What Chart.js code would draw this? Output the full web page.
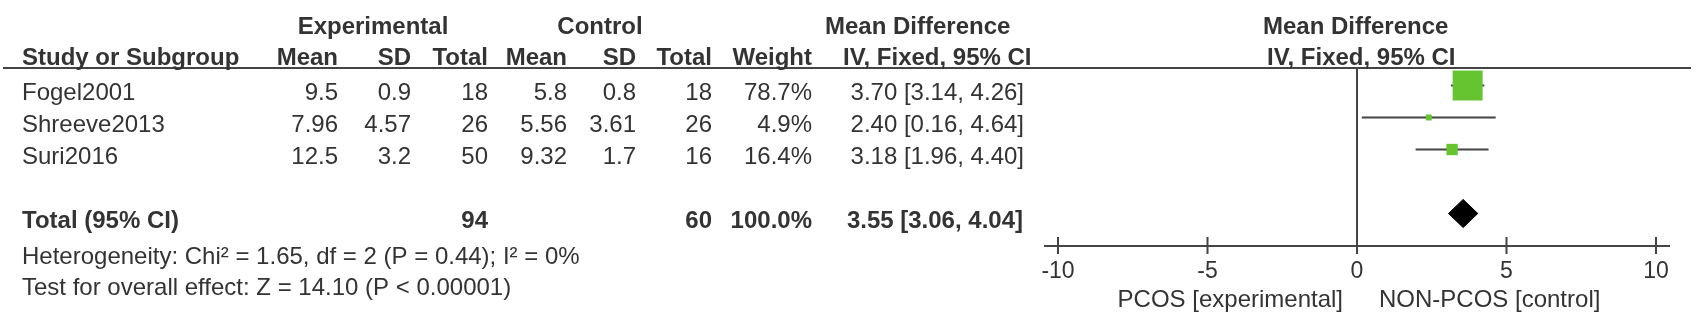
<!DOCTYPE html>
<html>
<head>
<meta charset="utf-8">
<script src="https://cdn.jsdelivr.net/npm/chart.js"></script>
<style>
  html, body { margin: 0; padding: 0; background: #fff; }
  #wrap { width: 1699px; height: 316px; }
</style>
</head>
<body>
<div id="wrap"><canvas id="forest" width="1699" height="316"></canvas></div>
<script>
  // study data
  const studies = ['Fogel2001', 'Shreeve2013', 'Suri2016'];
  const expMean = [9.5, 7.96, 12.5];
  const expSD = [0.9, 4.57, 3.2];
  const expN = [18, 26, 50];
  const ctlMean = [5.8, 5.56, 9.32];
  const ctlSD = [0.8, 3.61, 1.7];
  const ctlN = [18, 26, 16];
  const weights = [78.7, 4.9, 16.4];
  const md = [3.70, 2.40, 3.18];
  const ciLow = [3.14, 0.16, 1.96];
  const ciHigh = [4.26, 4.64, 4.40];

  // pooled result
  const totalExpN = 94;
  const totalCtlN = 60;
  const totalWeight = 100.0;
  const totalMd = 3.55;
  const totalLow = 3.06;
  const totalHigh = 4.04;

  const xTicks = [-10, -5, 0, 5, 10];
  const heterogeneity = 'Heterogeneity: Chi\u00b2 = 1.65, df = 2 (P = 0.44); I\u00b2 = 0%';
  const overallTest = 'Test for overall effect: Z = 14.10 (P < 0.00001)';
  const favoursLeft = 'PCOS [experimental]';
  const favoursRight = 'NON-PCOS [control]';

  const TOTAL_ROW = studies.length + 1;
  const FONT = "'Liberation Sans', Arial, sans-serif";
  const TEXT = '#333';
  const LINE = '#444';
  const GREEN = '#66c431';

  const ciFmt = (m, lo, hi) => `${m.toFixed(2)} [${lo.toFixed(2)}, ${hi.toFixed(2)}]`;

  const tablePlugin = {
    id: 'forestTable',
    beforeDatasetsDraw(chart) {
      const { ctx, scales: { x, y } } = chart;
      ctx.save();
      ctx.strokeStyle = LINE;
      ctx.lineWidth = 2;
      // header rule
      ctx.beginPath();
      ctx.moveTo(3, 68);
      ctx.lineTo(1691, 68);
      ctx.stroke();
      // line of no effect
      const x0 = x.getPixelForValue(0);
      ctx.beginPath();
      ctx.moveTo(x0, 68);
      ctx.lineTo(x0, y.bottom);
      ctx.stroke();
      // axis with crossing ticks
      const ax = y.bottom;
      ctx.beginPath();
      ctx.moveTo(x.getPixelForValue(xTicks[0]) - 14, ax);
      ctx.lineTo(x.getPixelForValue(xTicks[xTicks.length - 1]) + 14, ax);
      xTicks.forEach(t => {
        const px = x.getPixelForValue(t);
        ctx.moveTo(px, ax - 9);
        ctx.lineTo(px, ax + 8);
      });
      ctx.stroke();
      ctx.restore();
    },
    afterDraw(chart) {
      const { ctx, scales: { x, y } } = chart;
      const rowY = i => y.getPixelForValue(i) + 14.5;
      const put = (s, px, py, align, bold) => {
        ctx.font = (bold ? 'bold ' : '') + '24px ' + FONT;
        ctx.textAlign = align;
        ctx.fillText(s, px, py);
      };
      ctx.save();
      ctx.fillStyle = TEXT;
      ctx.textBaseline = 'alphabetic';

      // headers
      put('Experimental', 373, 33.5, 'center', true);
      put('Control', 600, 33.5, 'center', true);
      put('Mean Difference', 825, 33.5, 'left', true);
      put('Mean Difference', 1263, 33.5, 'left', true);
      put('Study or Subgroup', 22, 65, 'left', true);
      put('Mean', 338, 65, 'right', true);
      put('SD', 411, 65, 'right', true);
      put('Total', 488, 65, 'right', true);
      put('Mean', 567, 65, 'right', true);
      put('SD', 636, 65, 'right', true);
      put('Total', 712, 65, 'right', true);
      put('Weight', 812, 65, 'right', true);
      put('IV, Fixed, 95% CI', 843, 65, 'left', true);
      put('IV, Fixed, 95% CI', 1267, 65, 'left', true);

      // study rows
      studies.forEach((s, i) => {
        const py = rowY(i);
        put(s, 22, py, 'left');
        put(String(expMean[i]), 338, py, 'right');
        put(String(expSD[i]), 411, py, 'right');
        put(String(expN[i]), 488, py, 'right');
        put(String(ctlMean[i]), 567, py, 'right');
        put(String(ctlSD[i]), 636, py, 'right');
        put(String(ctlN[i]), 712, py, 'right');
        put(weights[i].toFixed(1) + '%', 812, py, 'right');
        put(ciFmt(md[i], ciLow[i], ciHigh[i]), 1024, py, 'right');
      });

      // total row
      const ty = rowY(TOTAL_ROW);
      put('Total (95% CI)', 22, ty, 'left', true);
      put(String(totalExpN), 488, ty, 'right', true);
      put(String(totalCtlN), 712, ty, 'right', true);
      put(totalWeight.toFixed(1) + '%', 812, ty, 'right', true);
      put(ciFmt(totalMd, totalLow, totalHigh), 1023, ty, 'right', true);

      put(heterogeneity, 22, 263.5, 'left');
      put(overallTest, 22, 294.5, 'left');

      // favours labels
      put(favoursLeft, 1343, 307, 'right');
      put(favoursRight, 1379, 307, 'left');
      ctx.restore();
    }
  };

  const maxW = Math.max(...weights);
  const datasets = [];
  // weighted squares (drawn on top)
  datasets.push({
    data: studies.map((s, i) => ({ x: md[i], y: i })),
    pointStyle: 'rect',
    pointRadius: ctx => Math.max(4.2, 21.2 * Math.pow(weights[ctx.dataIndex] / maxW, 0.62)),
    backgroundColor: GREEN,
    borderColor: GREEN,
    borderWidth: 0,
    showLine: false
  });
  // pooled diamond
  datasets.push({
    data: [
      { x: totalLow, y: TOTAL_ROW },
      { x: totalMd, y: TOTAL_ROW - 0.44 },
      { x: totalHigh, y: TOTAL_ROW },
      { x: totalMd, y: TOTAL_ROW + 0.44 },
      { x: totalLow, y: TOTAL_ROW }
    ],
    showLine: true,
    fill: 'shape',
    backgroundColor: '#000',
    borderColor: '#000',
    borderWidth: 1,
    pointRadius: 0,
    tension: 0
  });
  // confidence interval whiskers
  studies.forEach((s, i) => {
    datasets.push({
      data: [{ x: ciLow[i], y: i }, { x: ciHigh[i], y: i }],
      showLine: true,
      borderColor: LINE,
      borderWidth: 2,
      pointRadius: 0
    });
  });

  new Chart(document.getElementById('forest').getContext('2d'), {
    type: 'scatter',
    data: { datasets: datasets },
    options: {
      responsive: false,
      animation: false,
      events: [],
      layout: { padding: { left: 1058, right: 43, top: 68, bottom: 0 } },
      plugins: { legend: { display: false }, tooltip: { enabled: false } },
      scales: {
        x: {
          type: 'linear',
          position: 'bottom',
          min: -10,
          max: 10,
          afterBuildTicks: scale => { scale.ticks = xTicks.map(v => ({ value: v })); },
          afterFit: scale => { scale.height = 70; },
          grid: { display: false, drawTicks: false },
          border: { display: false },
          ticks: {
            color: TEXT,
            padding: 12,
            maxRotation: 0,
            font: { family: FONT, size: 23 },
            callback: v => String(v)
          }
        },
        y: {
          type: 'linear',
          display: false,
          reverse: true,
          min: -0.547,
          max: 5.016
        }
      }
    },
    plugins: [tablePlugin]
  });
</script>
</body>
</html>
